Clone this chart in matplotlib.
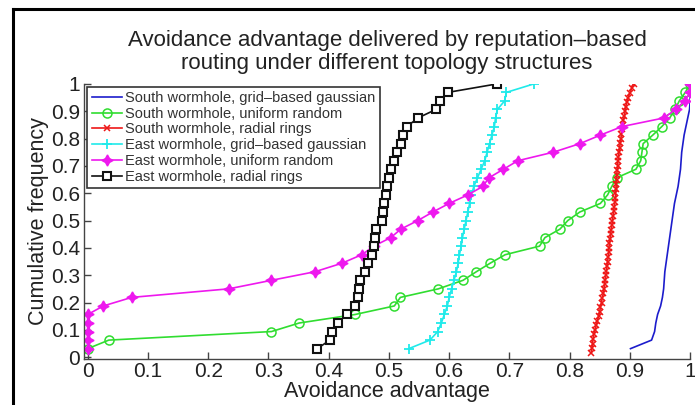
import numpy as np
import matplotlib
matplotlib.use("Agg")
import matplotlib.pyplot as plt
from matplotlib.lines import Line2D

plt.rcParams['font.family'] = ['Liberation Sans', 'DejaVu Sans']

# sorted sample values for each scenario (cumulative frequency is i/n)
south_grid = [0.901, 0.936, 0.941, 0.943, 0.946, 0.951, 0.954, 0.956, 0.957, 0.958,
              0.960, 0.962, 0.964, 0.966, 0.968, 0.970, 0.972, 0.974, 0.977, 0.980,
              0.982, 0.984, 0.985, 0.986, 0.988, 0.990, 0.993, 0.996, 0.999, 1.0,
              1.0, 1.0]
south_uniform = [0.0, 0.035, 0.305, 0.351, 0.444, 0.509, 0.519, 0.582, 0.623, 0.645,
                 0.668, 0.693, 0.750, 0.759, 0.784, 0.797, 0.817, 0.851, 0.863, 0.870,
                 0.878, 0.910, 0.918, 0.920, 0.922, 0.938, 0.953, 0.966, 0.975, 0.982,
                 0.992, 1.0]
south_radial = [0.836, 0.837, 0.838, 0.839, 0.840, 0.842, 0.844, 0.846, 0.848, 0.850,
                0.851, 0.853, 0.854, 0.856, 0.857, 0.858, 0.859, 0.860, 0.861, 0.862,
                0.863, 0.864, 0.865, 0.865, 0.866, 0.867, 0.868, 0.869, 0.870, 0.871,
                0.872, 0.873, 0.874, 0.875, 0.876, 0.876, 0.877, 0.877, 0.878, 0.878,
                0.879, 0.880, 0.880, 0.881, 0.882, 0.883, 0.884, 0.885, 0.886, 0.887,
                0.888, 0.889, 0.891, 0.892, 0.893, 0.895, 0.897, 0.900, 0.903, 0.906]
east_grid = [0.533, 0.568, 0.581, 0.587, 0.592, 0.597, 0.600, 0.604, 0.608, 0.612,
             0.615, 0.617, 0.620, 0.622, 0.625, 0.628, 0.631, 0.634, 0.637, 0.641,
             0.647, 0.653, 0.659, 0.663, 0.667, 0.671, 0.675, 0.677, 0.680, 0.692,
             0.695, 0.741]
east_uniform = [0.0, 0.0, 0.0, 0.0, 0.0, 0.026, 0.073, 0.234, 0.305, 0.377,
                0.422, 0.455, 0.475, 0.503, 0.520, 0.548, 0.573, 0.600, 0.631, 0.656,
                0.666, 0.690, 0.714, 0.773, 0.817, 0.851, 0.887, 0.956, 0.976, 0.991,
                1.0, 1.0]
east_radial = [0.381, 0.402, 0.406, 0.415, 0.430, 0.443, 0.448, 0.451, 0.452, 0.460,
               0.465, 0.472, 0.475, 0.477, 0.479, 0.488, 0.490, 0.492, 0.495, 0.497,
               0.500, 0.503, 0.509, 0.514, 0.520, 0.524, 0.530, 0.548, 0.578, 0.584,
               0.598, 0.680]

labels = ['South wormhole, grid\u2013based gaussian',
          'South wormhole, uniform random',
          'South wormhole, radial rings',
          'East wormhole, grid\u2013based gaussian',
          'East wormhole, uniform random',
          'East wormhole, radial rings']
tick_labels = ['0', '0.1', '0.2', '0.3', '0.4', '0.5', '0.6', '0.7', '0.8', '0.9', '1']


def cdf(values):
    n = len(values)
    return np.arange(1, n + 1) / n


fig = plt.figure(figsize=(6.95, 4.05), dpi=100)
ax = fig.add_axes([0.121, 0.114, 0.872, 0.679])

txt = '#222222'
ax.plot(south_grid, cdf(south_grid), color='#1c1ccc', lw=1.2, label=labels[0])
ax.plot(south_uniform, cdf(south_uniform), color='#30dd30', lw=1.2, marker='o',
        ms=6.5, mfc='none', mew=1.1, label=labels[1])
ax.plot(south_radial, cdf(south_radial), color='#ee1818', lw=1.2, marker='x',
        ms=4, mew=1.1, label=labels[2])
ax.plot(east_grid, cdf(east_grid), color='#20eaea', lw=1.2, marker='+',
        ms=7, mew=1.3, label=labels[3])
ax.plot(east_uniform, cdf(east_uniform), color='#ee18ee', lw=1.2, marker=(4, 1, 0),
        ms=8, label=labels[4])
ax.plot(east_radial, cdf(east_radial), color='#111111', lw=1.2, marker='s',
        ms=5.2, mfc='white', mew=1.5, label=labels[5])

ax.set_xlim(-0.006, 1.0)
ax.set_ylim(-0.006, 1.0)
ax.set_xticks(np.arange(0, 1.01, 0.1))
ax.set_yticks(np.arange(0, 1.01, 0.1))
ax.set_xticklabels(tick_labels)
ax.set_yticklabels(tick_labels)
ax.tick_params(direction='in', length=5, width=1, labelsize=15, colors='#444444',
               labelcolor=txt, pad=3)
ax.tick_params(axis='x', pad=2)
for s in ['top', 'right']:
    ax.spines[s].set_visible(False)
for s in ['left', 'bottom']:
    ax.spines[s].set_color('#444444')
    ax.spines[s].set_linewidth(1.0)

ax.set_xlabel('Avoidance advantage', fontsize=15.5, color=txt, labelpad=0)
ax.set_ylabel('Cumulative frequency', fontsize=15.5, color=txt, labelpad=1)
ax.set_title('Avoidance advantage delivered by reputation\u2013based\n'
             'routing under different topology structures',
             fontsize=16, color=txt, pad=11, linespacing=1.1)

leg = ax.legend(loc='upper left', bbox_to_anchor=(0.005, 0.99), borderaxespad=0,
                fontsize=10.5, handlelength=2.1, handletextpad=0.2,
                labelspacing=0.12, borderpad=0.3, fancybox=False, framealpha=1)
leg.get_frame().set_edgecolor('#333333')
leg.get_frame().set_linewidth(1.2)
for t in leg.get_texts():
    t.set_color('#333333')

# screenshot frame lines (top and left)
fig.add_artist(Line2D([0.019, 0.019], [0.0, 0.978], transform=fig.transFigure,
                      color='black', lw=2.2))
fig.add_artist(Line2D([0.019, 1.0], [0.978, 0.978], transform=fig.transFigure,
                      color='black', lw=2.2))

fig.savefig('out.png', dpi=100)
